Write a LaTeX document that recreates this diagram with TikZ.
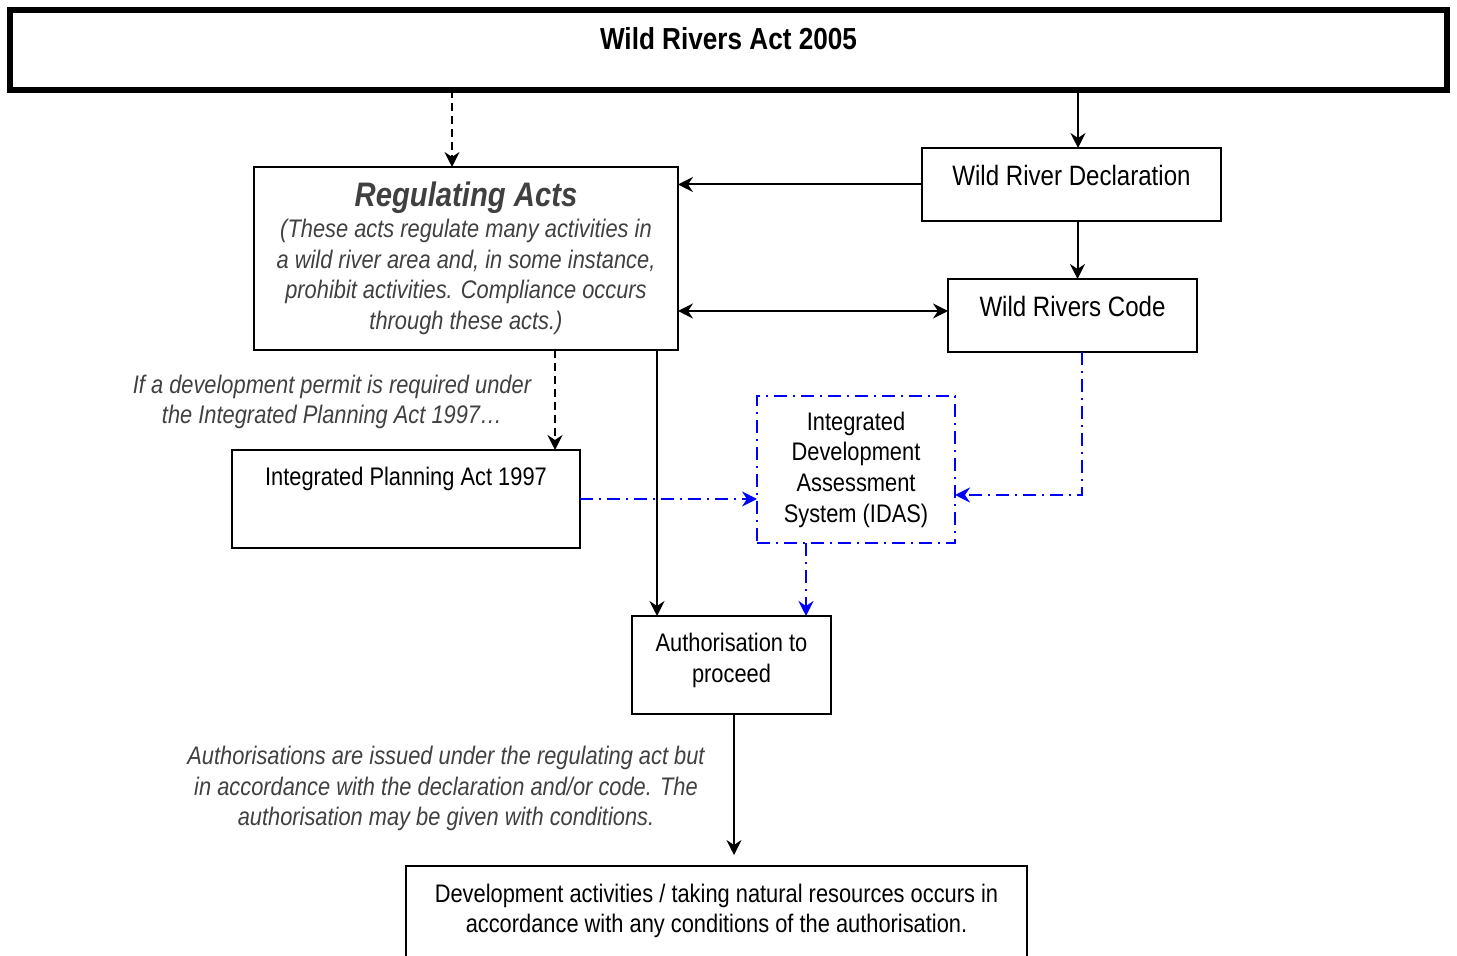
\documentclass[tikz,border=0pt]{standalone}
\usepackage{fontspec}
\setmainfont[FakeStretch=0.86]{Liberation Sans}
\usetikzlibrary{arrows.meta}

\definecolor{notegray}{RGB}{64,64,64}
\definecolor{idasblue}{RGB}{0,0,255}

\newcommand{\bodysize}{\fontsize{12.7}{15.35}\selectfont}
\newcommand{\boxsize}{\fontsize{14}{16.8}\selectfont}
\newcommand{\titlesize}{\fontsize{15.2}{18}\selectfont\bfseries}
\newcommand{\headsize}{\fontsize{17}{19}\selectfont\bfseries\itshape}

\begin{document}
\begin{tikzpicture}[x=0.5pt, y=-0.5pt, >={Stealth[length=7.5pt,width=7.5pt,inset=2.5pt]}]
  \tikzstyle{block} = [rectangle, draw, line width=1pt, align=center,
    inner sep=0pt, outer sep=0pt, font=\bodysize]
  \tikzstyle{note} = [align=center, text=notegray, font=\bodysize\itshape]
  \tikzstyle{line} = [draw, line width=1pt, ->]
  \tikzstyle{dashline} = [line, dash pattern=on 4pt off 2.5pt]
  \tikzstyle{idasline} = [line, idasblue, line width=1.3pt,
    dash pattern=on 6.5pt off 3pt on 1pt off 3pt]

  \useasboundingbox (0,0) rectangle (1457,956);
  \clip (0,0) rectangle (1457,956);

  % Place nodes
  \node [block, line width=3pt, minimum width=718.5pt, text height=20pt,
    text depth=20pt, font=\titlesize, anchor=north] (act) at (728.5,10)
    {Wild Rivers Act 2005};
  \node [block, font=\boxsize, minimum width=149.5pt, text height=19pt,
    text depth=17.5pt, anchor=north] (decl) at (1071.5,148)
    {Wild River Declaration};
  \node [block, font=\boxsize, minimum width=124.5pt, text height=19pt,
    text depth=17.5pt, anchor=north] (code) at (1072.5,279)
    {Wild Rivers Code};
  \node [block, minimum width=212pt, minimum height=91.5pt, text=notegray,
    font=\bodysize\itshape] (reg) at (466,258.5)
    {{\headsize Regulating Acts}\\(These acts regulate many activities in\\
     a wild river area and, in some instance,\\prohibit activities. Compliance occurs\\
     through these acts.)};
  \node [note] (permit) at (332,402)
    {If a development permit is required under\\the Integrated Planning Act 1997\dots};
  \node [block, minimum width=174pt, text height=18pt, text depth=31pt,
    anchor=north] (ipa) at (406,450) {Integrated Planning Act 1997};
  \node [block, draw=idasblue, line width=1.3pt,
    dash pattern=on 6.5pt off 3pt on 1pt off 3pt, minimum width=99pt,
    minimum height=73.5pt] (idas) at (856,469.5)
    {Integrated\\Development\\Assessment\\System (IDAS)};
  \node [block, minimum width=99.5pt, text height=33.35pt, text depth=15.65pt,
    anchor=north] (auth) at (731.5,616) {Authorisation to\\proceed};
  \node [note] (issued) at (446,788.5)
    {Authorisations are issued under the regulating act but\\
     in accordance with the declaration and/or code. The\\
     authorisation may be given with conditions.};
  \node [block, minimum width=310.5pt, text height=33.35pt, text depth=34.65pt,
    anchor=north] (dev) at (716.5,866)
    {Development activities / taking natural resources occurs in\\
     accordance with any conditions of the authorisation.};

  % Draw edges
  \path [dashline] ([xshift=-7pt]reg.north |- act.south) -- ([xshift=-7pt]reg.north);
  \path [line] ([xshift=3.25pt]decl.north |- act.south) -- ([xshift=3.25pt]decl.north);
  \path [line] (decl.west) -- (decl.west -| reg.east);
  \path [line, <->] ([yshift=2.25pt]code.west -| reg.east) -- ([yshift=2.25pt]code.west);
  \path [line] ([xshift=3pt]decl.south) -- ([xshift=3pt]decl.south |- code.north);

  \path [dashline] ([xshift=-12.5pt]ipa.north east |- reg.south) -- ([xshift=-12.5pt]ipa.north east);
  \path [line] ([xshift=12.5pt]auth.north west |- reg.south) -- ([xshift=12.5pt]auth.north west);

  \path [idasline] (ipa.east) -- (ipa.east -| idas.west);
  \path [idasline] ([xshift=4.75pt]code.south) |- ([yshift=-12.75pt]idas.east);
  \path [idasline] ([xshift=-25pt]idas.south) -- ([xshift=-25pt]idas.south |- auth.north);

  \path [line, shorten >=5.5pt] ([xshift=1.25pt]auth.south) -- ([xshift=1.25pt]auth.south |- dev.north);

\end{tikzpicture}
\end{document}
